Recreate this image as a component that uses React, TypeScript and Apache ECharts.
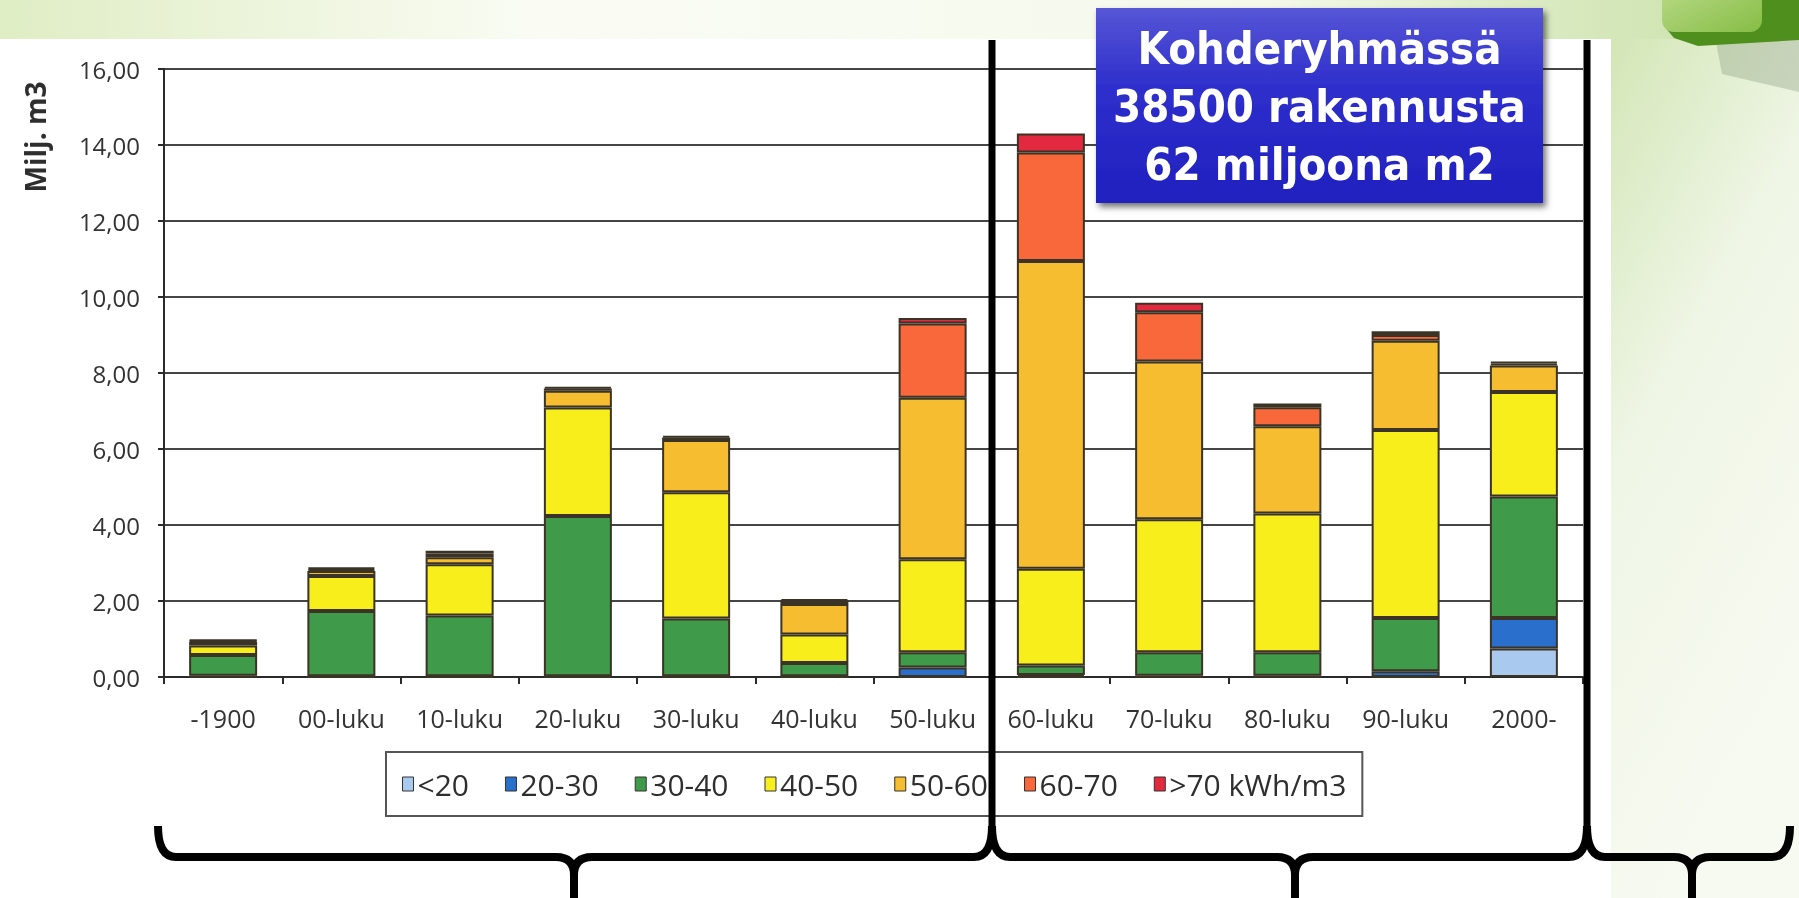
import React, { useEffect, useRef } from "react";
import * as echarts from "echarts";

// ---------- data ----------
const categories = ["-1900", "00-luku", "10-luku", "20-luku", "30-luku", "40-luku", "50-luku", "60-luku", "70-luku", "80-luku", "90-luku", "2000-"];
const bandNames = ["<20", "20-30", "30-40", "40-50", "50-60", "60-70", ">70 kWh/m3"];
const bandColors = ["#a9c9ee", "#2b6fcc", "#3f9a4a", "#f7ee1c", "#f6bd30", "#f8683a", "#e2293f"];

const kwhBelow20 = [0, 0, 0, 0, 0, 0, 0, 0, 0, 0, 0, 0.75];
const kwh20to30 = [0.03, 0.02, 0.02, 0.02, 0.02, 0.02, 0.25, 0.05, 0.03, 0.03, 0.15, 0.8];
const kwh30to40 = [0.55, 1.72, 1.6, 4.22, 1.52, 0.35, 0.4, 0.25, 0.62, 0.62, 1.4, 3.2];
const kwh40to50 = [0.25, 0.92, 1.35, 2.85, 3.32, 0.75, 2.45, 2.55, 3.5, 3.65, 4.95, 2.75];
const kwh50to60 = [0.1, 0.13, 0.18, 0.44, 1.38, 0.8, 4.25, 8.1, 4.15, 2.3, 2.35, 0.7];
const kwh60to70 = [0.03, 0.05, 0.1, 0.06, 0.06, 0.08, 1.95, 2.85, 1.3, 0.5, 0.15, 0.05];
const kwhAbove70 = [0.02, 0.05, 0.07, 0.05, 0.05, 0.05, 0.15, 0.5, 0.25, 0.1, 0.1, 0.05];

const yTickValues = [0, 2, 4, 6, 8, 10, 12, 14, 16];
const yAxisTitle = "Milj. m3";
const calloutLines = ["Kohderyhmässä", "38500 rakennusta", "62 miljoona m2"];

const bandValues = [kwhBelow20, kwh20to30, kwh30to40, kwh40to50, kwh50to60, kwh60to70, kwhAbove70];

// ---------- decoration shapes ----------
function bracePath(x0: number, x1: number, xm: number) {
  const yb = 857, yt = 826, r = 18, yd = 910;
  return (
    `M${x0} ${yt} Q${x0} ${yb} ${x0 + r} ${yb} L${xm - r} ${yb} Q${xm} ${yb} ${xm} ${yb + r} L${xm} ${yd} ` +
    `M${xm} ${yb + r} Q${xm} ${yb} ${xm + r} ${yb} L${x1 - r} ${yb} Q${x1} ${yb} ${x1} ${yt}`
  );
}
const braceD = bracePath(158, 992, 574) + " " + bracePath(992, 1587, 1295) + " " + bracePath(1587, 1790, 1692);
echarts.graphic.registerShape("braces", echarts.graphic.extendPath(braceD, {}));

export default function App() {
  const ref = useRef<HTMLDivElement>(null);

  useEffect(() => {
    if (!ref.current) return;
    const chart = echarts.init(ref.current, null, { renderer: "svg" });

    const series = bandNames.map((name, i) => ({
      name,
      type: "bar",
      stack: "total",
      barWidth: 68,
      data: bandValues[i],
      itemStyle: { color: bandColors[i], borderColor: "#3b3426", borderWidth: 2 },
      emphasis: { disabled: true },
    }));

    const textFont = "'Open Sans', 'DejaVu Sans', sans-serif";

    const graphic: any[] = [
      // slide background
      {
        type: "rect", z: -20, silent: true,
        shape: { x: 0, y: 0, width: 1799, height: 898 },
        style: {
          fill: new echarts.graphic.LinearGradient(0, 0, 1, 0, [
            { offset: 0, color: "#dfedc4" },
            { offset: 0.3, color: "#fafcf4" },
            { offset: 0.7, color: "#f5f9ec" },
            { offset: 0.88, color: "#d6e8bc" },
            { offset: 1, color: "#c9e0a8" },
          ]),
        },
      },
      {
        type: "rect", z: -19, silent: true,
        shape: { x: 1611, y: 39, width: 188, height: 859 },
        style: {
          fill: new echarts.graphic.LinearGradient(0, 0, 0.4, 1, [
            { offset: 0, color: "#d3e6b6" },
            { offset: 0.45, color: "#eff6e6" },
            { offset: 1, color: "#f7faf1" },
          ]),
        },
      },
      // logo-like shape top right
      {
        type: "polygon", z: -18, silent: true,
        shape: { points: [[1716, 42], [1799, 38], [1799, 92], [1722, 74]] },
        style: { fill: "rgba(120,140,110,0.3)" },
      },
      {
        type: "polygon", z: -17, silent: true,
        shape: { points: [[1664, 0], [1664, 26], [1674, 38], [1698, 46], [1799, 40], [1799, 0]] },
        style: { fill: "#4f8f1e" },
      },
      {
        type: "rect", z: -16, silent: true,
        shape: { x: 1662, y: -20, width: 100, height: 52, r: 12 },
        style: {
          fill: new echarts.graphic.LinearGradient(0, 0, 1, 1, [
            { offset: 0, color: "#bcdc8c" },
            { offset: 1, color: "#86bd45" },
          ]),
        },
      },
      // white scanned chart area
      {
        type: "rect", z: -15, silent: true,
        shape: { x: 0, y: 39, width: 1611, height: 859 },
        style: { fill: "#ffffff" },
      },
      // y axis title
      {
        type: "text", z: 5, x: 35, y: 137, rotation: Math.PI / 2,
        style: {
          text: yAxisTitle, fill: "#2e2e2e", font: `bold 28px ${textFont}`,
          textAlign: "center", textVerticalAlign: "middle",
        },
      },
      // vertical black lines
      {
        type: "line", z: 20, silent: true,
        shape: { x1: 992, y1: 40, x2: 992, y2: 828 },
        style: { stroke: "#000000", lineWidth: 7 },
      },
      {
        type: "line", z: 20, silent: true,
        shape: { x1: 1587, y1: 40, x2: 1587, y2: 828 },
        style: { stroke: "#000000", lineWidth: 7 },
      },
      // braces
      {
        type: "braces", z: 20, x: 0, y: 0, silent: true,
        style: { fill: "none", stroke: "#000000", lineWidth: 8, lineJoin: "round", lineCap: "butt" },
      },
      // callout box
      {
        type: "rect", z: 22, silent: true,
        shape: { x: 1096, y: 8, width: 447, height: 195 },
        style: {
          fill: new echarts.graphic.LinearGradient(0, 0, 0, 1, [
            { offset: 0, color: "#5656d6" },
            { offset: 0.4, color: "#2f2fcc" },
            { offset: 1, color: "#2020bf" },
          ]),
          shadowBlur: 6, shadowOffsetX: 3, shadowOffsetY: 4, shadowColor: "rgba(0,0,0,0.55)",
        },
      },
      ...calloutLines.map((line, i) => ({
        type: "text", z: 23, x: 1319.5, y: 48 + i * 58, scaleX: 0.9, silent: true,
        style: {
          text: line, fill: "#ffffff", font: "bold 45px 'DejaVu Sans', sans-serif",
          textAlign: "center", textVerticalAlign: "middle",
        },
      })),
    ];

    chart.setOption({
      animation: false,
      backgroundColor: "transparent",
      grid: { left: 164, right: 216, top: 69, bottom: 221, containLabel: false },
      legend: {
        left: 386, top: 752,
        padding: [17, 16],
        itemGap: 36, itemWidth: 11, itemHeight: 14,
        icon: "rect",
        borderColor: "#555555", borderWidth: 2, backgroundColor: "#ffffff",
        itemStyle: { borderWidth: 1, borderColor: "#333333" },
        textStyle: { fontSize: 30, fontFamily: textFont, color: "#2e2e2e", padding: [0, 0, 0, -1] },
        data: bandNames,
        selectedMode: false,
      },
      xAxis: {
        type: "category",
        data: categories,
        axisLine: { lineStyle: { color: "#2a2a2a", width: 2 } },
        axisTick: { show: true, alignWithLabel: false, length: 7, lineStyle: { color: "#2a2a2a", width: 2 } },
        axisLabel: { fontSize: 25, fontFamily: textFont, color: "#333333", margin: 28 },
      },
      yAxis: {
        type: "value",
        min: yTickValues[0],
        max: yTickValues[yTickValues.length - 1],
        interval: yTickValues[1] - yTickValues[0],
        axisLine: { show: true, lineStyle: { color: "#2a2a2a", width: 2 } },
        axisTick: { show: true, length: 6, lineStyle: { color: "#2a2a2a", width: 2 } },
        axisLabel: {
          fontSize: 24, fontFamily: textFont, color: "#333333", margin: 24,
          formatter: (v: number) => v.toFixed(2).replace(".", ","),
        },
        splitLine: { show: true, lineStyle: { color: "#454545", width: 2 } },
      },
      series,
      graphic: { elements: graphic },
    });

    return () => chart.dispose();
  }, []);

  return <div ref={ref} style={{ position: "fixed", left: 0, top: 0, width: 1799, height: 898 }} />;
}
